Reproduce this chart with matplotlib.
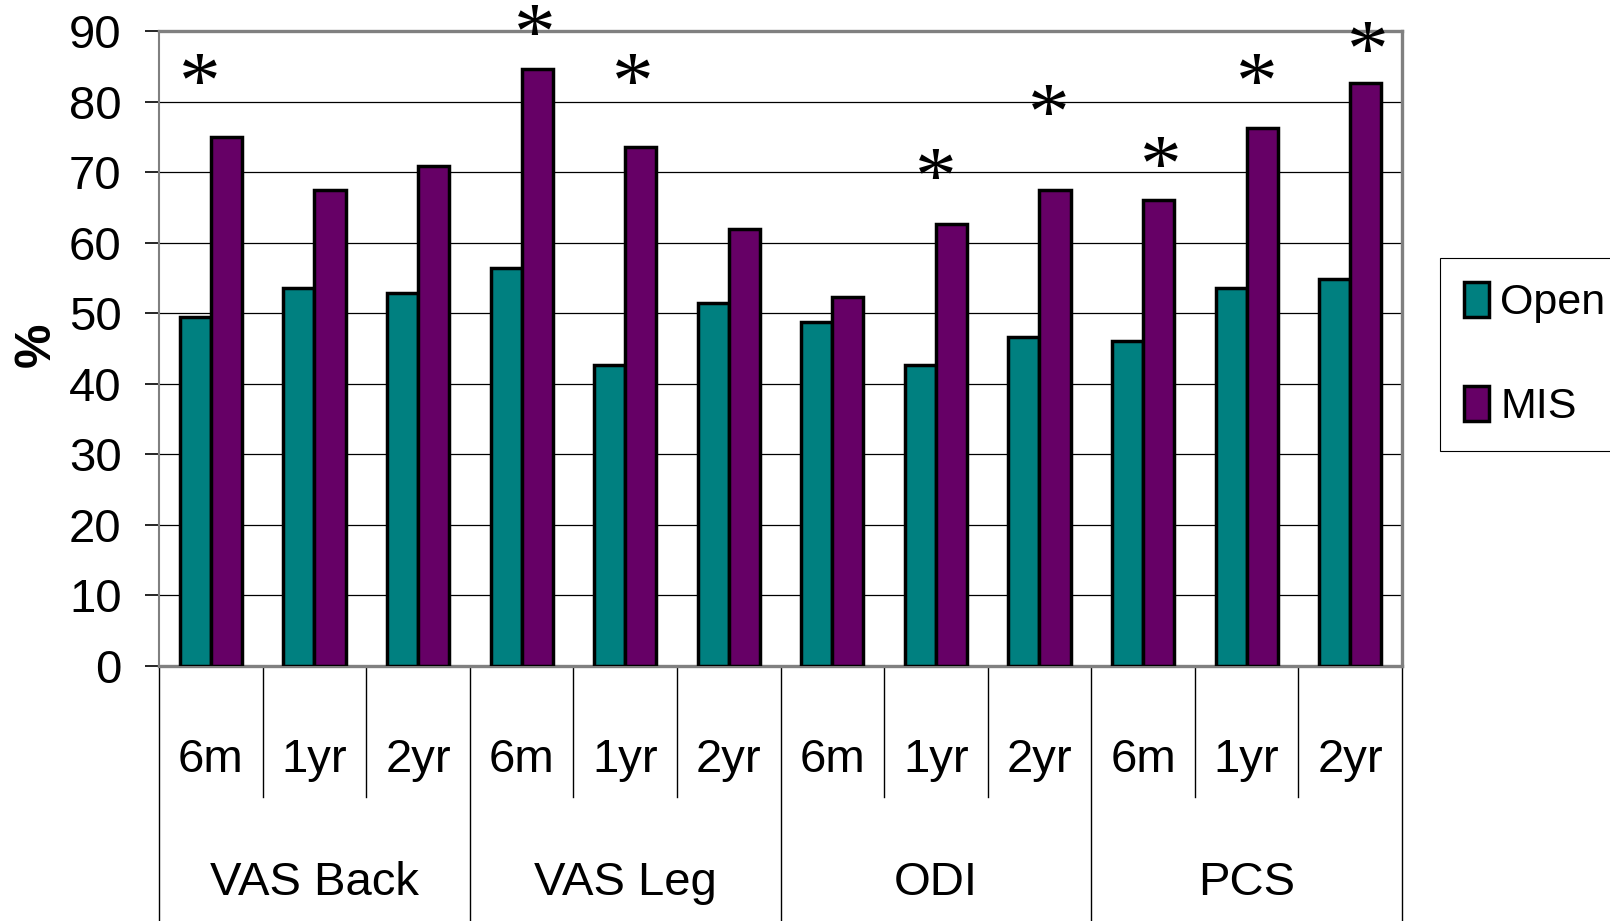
import numpy as np
import matplotlib.pyplot as plt
from matplotlib.patches import Patch
from matplotlib.transforms import blended_transform_factory

# data
groups = ['VAS Back', 'VAS Leg', 'ODI', 'PCS']
times = ['6m', '1yr', '2yr']
open_vals = [49.5, 53.6, 52.9, 56.4, 42.7, 51.5, 48.8, 42.7, 46.7, 46.0, 53.6, 54.9]
mis_vals = [75.0, 67.4, 70.9, 84.6, 73.5, 61.9, 52.3, 62.6, 67.4, 66.0, 76.3, 82.6]
# significance stars: category index and height
star_idx = [0, 3, 4, 7, 8, 9, 10, 11]
star_y = [84.2, 91.2, 84.2, 70.8, 79.8, 72.5, 84.2, 88.8]
star_dx = [-0.11, 0.13, 0.07, 0.0, 0.09, 0.17, 0.1, 0.17]

plt.rcParams['font.family'] = ['Liberation Sans', 'DejaVu Sans']

fig = plt.figure(figsize=(16.1, 9.21), dpi=100)
ax = fig.add_axes([0.0988, 0.2769, 0.772, 0.6894])

x = np.arange(len(open_vals))
w = 0.3
ax.bar(x - w / 2, open_vals, w, color='#008080', edgecolor='black', linewidth=2.5, zorder=3)
ax.bar(x + w / 2, mis_vals, w, color='#660066', edgecolor='black', linewidth=2.5, zorder=3)

ax.set_xlim(-0.5, len(x) - 0.5)
ax.set_ylim(0, 90)
ax.set_yticks(range(0, 91, 10))
ax.tick_params(axis='y', labelsize=34, length=10, width=1.2, pad=17, color='black')
ax.set_xticks([])
ax.yaxis.grid(True, color='black', linewidth=0.9, zorder=0)
ax.set_axisbelow(True)

for side in ['top', 'right']:
    ax.spines[side].set_color('#808080')
    ax.spines[side].set_linewidth(2.4)
ax.spines['left'].set_color('#808080')
ax.spines['left'].set_linewidth(1.5)
ax.spines['bottom'].set_color('#808080')
ax.spines['bottom'].set_linewidth(2.4)

for i, yv, dx in zip(star_idx, star_y, star_dx):
    ax.annotate('*', (i + dx, yv), xytext=(0, -12), textcoords='offset points',
                ha='center', va='center', fontsize=60, family='Liberation Serif',
                annotation_clip=False)

# two-level category axis
tr = blended_transform_factory(ax.transData, ax.transAxes)
for k in range(len(x) + 1):
    if k % 3 == 0:
        ax.plot([k - 0.5, k - 0.5], [0, -0.45], transform=tr, color='black', lw=1, clip_on=False)
    else:
        ax.plot([k - 0.5, k - 0.5], [0, -0.206], transform=tr, color='black', lw=1, clip_on=False)
for k in range(len(x)):
    ax.text(k, -0.148, times[k % 3], transform=tr, ha='center', va='center', fontsize=34)
for g, name in enumerate(groups):
    ax.text(g * 3 + 1, -0.342, name, transform=tr, ha='center', va='center', fontsize=34)

fig.text(0.023, 0.626, '%', rotation=90, ha='center', va='center', fontsize=36,
         fontweight='bold')

handles = [Patch(facecolor='#008080', edgecolor='black', linewidth=2.5),
           Patch(facecolor='#660066', edgecolor='black', linewidth=2.5)]
leg = fig.legend(handles, ['Open', 'MIS'], loc='upper left', bbox_to_anchor=(0.8944, 0.72),
                 borderaxespad=0, fontsize=31, handlelength=0.6, handleheight=0.9,
                 handletextpad=0.25, labelspacing=1.45, borderpad=0.55, fancybox=False,
                 edgecolor='black', framealpha=1)
leg.get_frame().set_linewidth(0.8)

fig.savefig('out.png', dpi=100)
